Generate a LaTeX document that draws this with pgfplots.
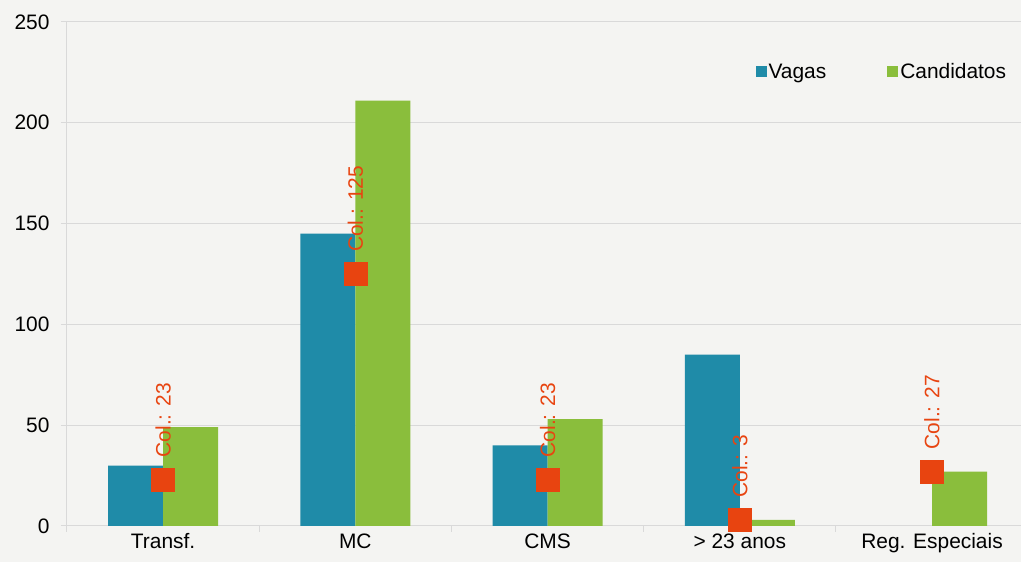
\documentclass[border=0pt]{standalone}
\usepackage{pgfplots}
\pgfplotsset{compat=1.18}
\usepackage{fontspec}
\setmainfont{Liberation Sans}
\definecolor{bg}{RGB}{244,244,242}
\definecolor{vagas}{RGB}{31,139,168}
\definecolor{cand}{RGB}{138,190,60}
\definecolor{colr}{RGB}{232,68,16}
\definecolor{gridc}{RGB}{217,217,217}
\newcommand{\ff}{\fontsize{21}{25}\selectfont}
\begin{document}
\begin{tikzpicture}[x=1bp,y=1bp]
\fill[bg] (-67,-36) rectangle (954,526);
\begin{axis}[
  at={(0,0)}, anchor=south west,
  scale only axis, width=954bp, height=504bp,
  xmin=-0.5, xmax=4.463, ymin=0, ymax=250,
  axis lines=left,
  axis line style={draw=gridc, line width=1bp, -},
  ytick={0,50,...,250},
  ymajorgrids, grid style={gridc, line width=1bp},
  tick align=outside, major tick length=6bp,
  tick style={gridc, line width=1bp},
  xtick={-0.5,0.5,1.5,2.5,3.5}, xticklabels={},
  extra x ticks={0,1,2,3,4},
  extra x tick labels={Transf.,MC,CMS,{> 23 anos},Reg. Especiais},
  extra x tick style={major tick length=0pt, tick label style={yshift=-4bp}},
  ticklabel style={font=\ff, text=black},
  y tick label style={xshift=-8bp},
  /pgf/number format/assume math mode=true,
  clip=false,
  legend style={at={(0.7215,0.901)}, anchor=west, draw=none, fill=none,
    font=\ff, inner sep=0pt,
    /tikz/every even column/.append style={column sep=59bp}},
  legend columns=2,
  sqlegend/.style={legend image code/.code={\draw[##1, draw=none] (0bp,-5.5bp) rectangle (11bp,5.5bp);}},
]
\addplot[ybar, bar width=55bp, bar shift=-27.5bp, fill=vagas, draw=none, sqlegend]
  coordinates {(0,30) (1,145) (2,40) (3,85)};
\addlegendentry{Vagas}
\addplot[ybar, bar width=55bp, bar shift=27.5bp, fill=cand, draw=none, sqlegend]
  coordinates {(0,49) (1,211) (2,53) (3,3) (4,27)};
\addlegendentry{Candidatos}
\addplot[colr, only marks, mark=square*, mark size=11.5bp,
  mark options={fill=colr, draw=colr, line width=0.5bp},
  nodes near coords={\rotatebox{90}{Col.: \pgfmathprintnumber{\pgfplotspointmeta}}},
  every node near coord/.append style={anchor=south, inner sep=0pt, yshift=22bp, font=\ff, text=colr},
  forget plot]
  coordinates {(0,23) (1,125) (2,23) (3,3) (4,27)};
\end{axis}
\pgfresetboundingbox
\path[use as bounding box] (-67,-36) rectangle (954,526);
\end{tikzpicture}
\end{document}
